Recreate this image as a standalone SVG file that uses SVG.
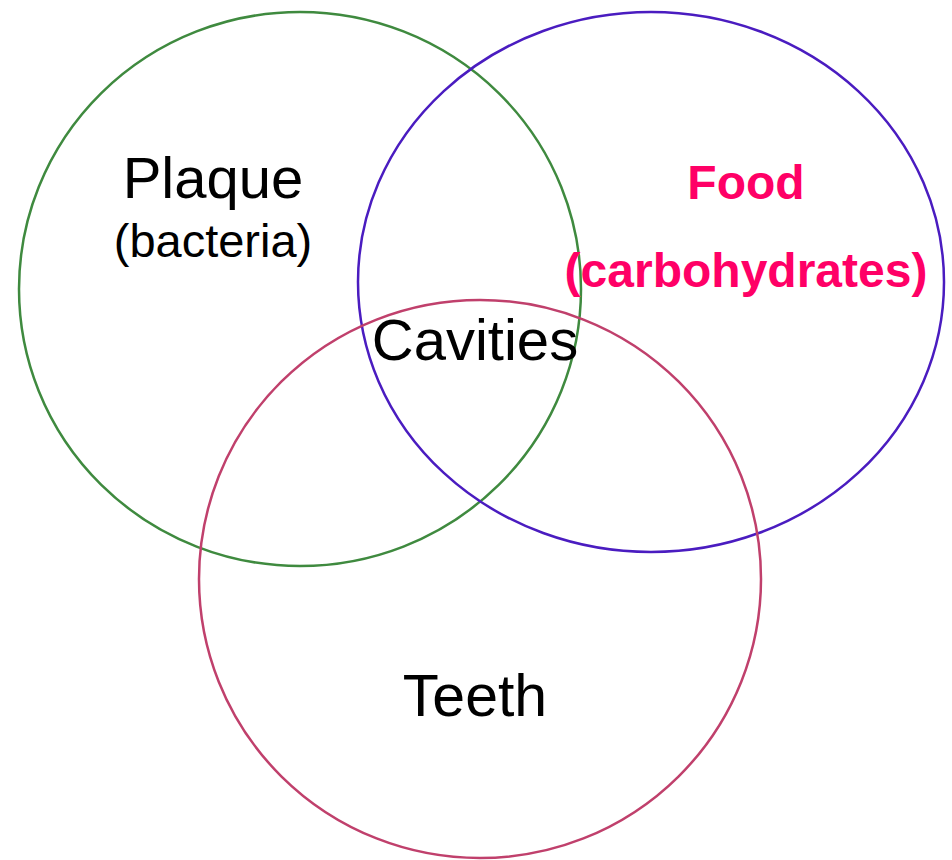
<svg xmlns="http://www.w3.org/2000/svg" width="952" height="860" viewBox="0 0 952 860">
<style>
.c{fill:none;stroke-width:2.5}
.t{font-family:"Liberation Sans",Arial,sans-serif;fill:#000;text-anchor:middle}
.f{font-family:"Liberation Sans",Arial,sans-serif;fill:#ff0066;font-weight:bold;text-anchor:middle}
</style>
<rect width="952" height="860" fill="#fff"/>
<g id="plaque">
<ellipse class="c" cx="300" cy="289" rx="281" ry="277" stroke="#3f8a3f"/>
<text class="t" x="213" y="198" font-size="58">Plaque</text>
<text class="t" x="213" y="257" font-size="47">(bacteria)</text>
</g>
<g id="food">
<ellipse class="c" cx="651" cy="282" rx="293" ry="270" stroke="#4a1cc0"/>
<text class="f" x="746" y="199" font-size="48">Food</text>
<text class="f" x="746" y="287" font-size="48">(carbohydrates)</text>
</g>
<g id="teeth">
<ellipse class="c" cx="480" cy="579" rx="281" ry="279" stroke="#c0406c"/>
<text class="t" x="475" y="716" font-size="59">Teeth</text>
</g>
<g id="cavities">
<text class="t" x="475" y="360" font-size="58">Cavities</text>
</g>
<g id="connectors"/>
</svg>
